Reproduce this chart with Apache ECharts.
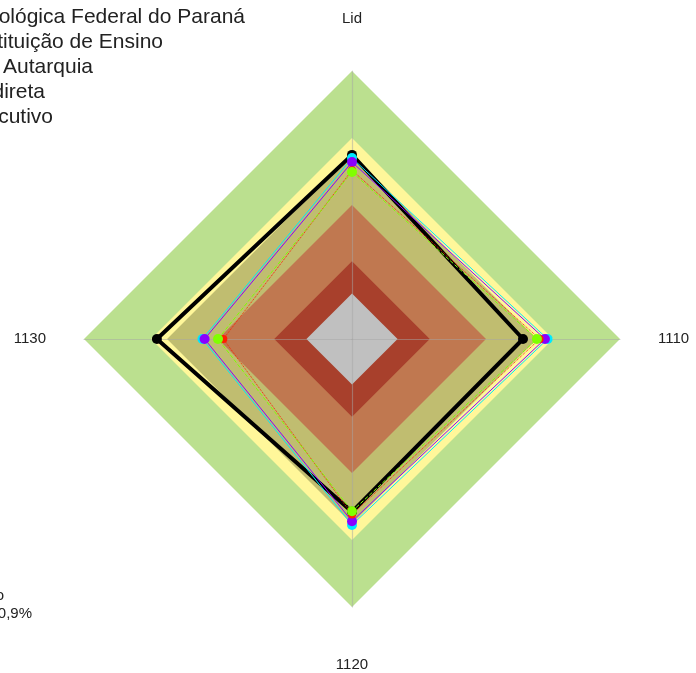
<!DOCTYPE html>
<html>
<head>
<meta charset="utf-8">
<script src="https://cdn.jsdelivr.net/npm/echarts@6/dist/echarts.min.js"></script>
<style>
html,body{margin:0;padding:0;background:#fff;}
#chart{width:696px;height:673px;}
</style>
</head>
<body>
<div id="chart"></div>
<script>
// Indicators (ECharts radar places them counter-clockwise from top)
var indicatorNames = ['Lid', '1130', '1120', '1110'];
var axisMax = 100;

// Background bands (outer to inner), value = band limit
var bandNames  = ['Faixa 6', 'Faixa 5', 'Faixa 4', 'Faixa 3', 'Faixa 2', 'Faixa 1'];
var bandLimits = [100, 75, 69, 50, 29, 17];
var bandColors = ['#bbe08f', '#fff79a', '#c0bd70', '#c07850', '#a8402c', '#c0c0c0'];

// Series (order of values follows indicatorNames: Lid, 1130, 1120, 1110)
var seriesNames = [
  'Universidade Tecnológica Federal do Paraná',
  'Instituição de Ensino',
  'Natureza: Autarquia',
  'Administração Indireta',
  'Poder Executivo'
];
var valsBlack  = [68.7, 72.8, 64.5, 63.8];
var valsCyan   = [67.5, 55.8, 69.4, 73.0];
var valsPurple = [66.0, 55.0, 68.0, 72.0];
var valsRed    = [63.0, 48.0, 65.5, 70.0];
var valsLime   = [62.3, 50.0, 64.3, 69.0];

var legendEnds = [245, 163, 93, 45, 53];
var footerLines = ['Resultado', '70,9%'];

var chart = echarts.init(document.getElementById('chart'));

var indicators = indicatorNames.map(function (n) { return { name: n, min: 0, max: axisMax }; });

var series = [];
bandLimits.forEach(function (lim, i) {
  series.push({
    type: 'radar', name: bandNames[i], z: 1, silent: true, symbol: 'none',
    lineStyle: { width: 0, opacity: 0 },
    areaStyle: { color: bandColors[i], opacity: 1 },
    data: [{ value: indicatorNames.map(function () { return lim; }), name: bandNames[i] }]
  });
});

function dataSeries(name, vals, color, width, type, size) {
  return {
    type: 'radar', name: name, z: 4, symbol: 'circle', symbolSize: size,
    itemStyle: { color: color },
    lineStyle: { color: color, width: width, type: type },
    data: [{ value: vals, name: name }]
  };
}
series.push(dataSeries(seriesNames[0], valsBlack, '#000000', 4, 'solid', 10));
series.push(dataSeries(seriesNames[1], valsCyan, '#00e8ff', 1, 'solid', 10));
series.push(dataSeries(seriesNames[2], valsPurple, '#8a00ff', 1, 'solid', 10));
series.push(dataSeries(seriesNames[4], valsRed, '#ff2000', 1, 'dotted', 8));
series.push(dataSeries(seriesNames[3], valsLime, '#80ff00', 1, 'dashed', 10));

var graphics = [];
seriesNames.forEach(function (n, i) {
  graphics.push({
    type: 'text', x: legendEnds[i], y: 17 + i * 25,
    style: { text: n, fill: '#222', font: '21px "Liberation Sans", Arial, sans-serif',
             textAlign: 'right', textVerticalAlign: 'middle' }
  });
});
graphics.push({ type: 'text', x: 4, y: 596,
  style: { text: footerLines[0], fill: '#222', font: '15px "Liberation Sans", Arial, sans-serif', textAlign: 'right', textVerticalAlign: 'middle' } });
graphics.push({ type: 'text', x: 32, y: 614,
  style: { text: footerLines[1], fill: '#222', font: '15px "Liberation Sans", Arial, sans-serif', textAlign: 'right', textVerticalAlign: 'middle' } });

chart.setOption({
  animation: false,
  backgroundColor: '#ffffff',
  radar: {
    z: 3,
    center: [352, 339],
    radius: 268,
    startAngle: 90,
    shape: 'polygon',
    indicator: indicators,
    nameGap: 38,
    axisName: { color: '#222', fontSize: 15, fontFamily: '"Liberation Sans", Arial, sans-serif', padding: [12, 0, 7, 0] },
    axisLine: { show: true, lineStyle: { color: 'rgba(165,165,165,0.5)', width: 1.2 } },
    splitLine: { show: false },
    splitArea: { show: false },
    axisTick: { show: false },
    axisLabel: { show: false }
  },
  series: series,
  graphic: graphics
});
</script>
</body>
</html>
